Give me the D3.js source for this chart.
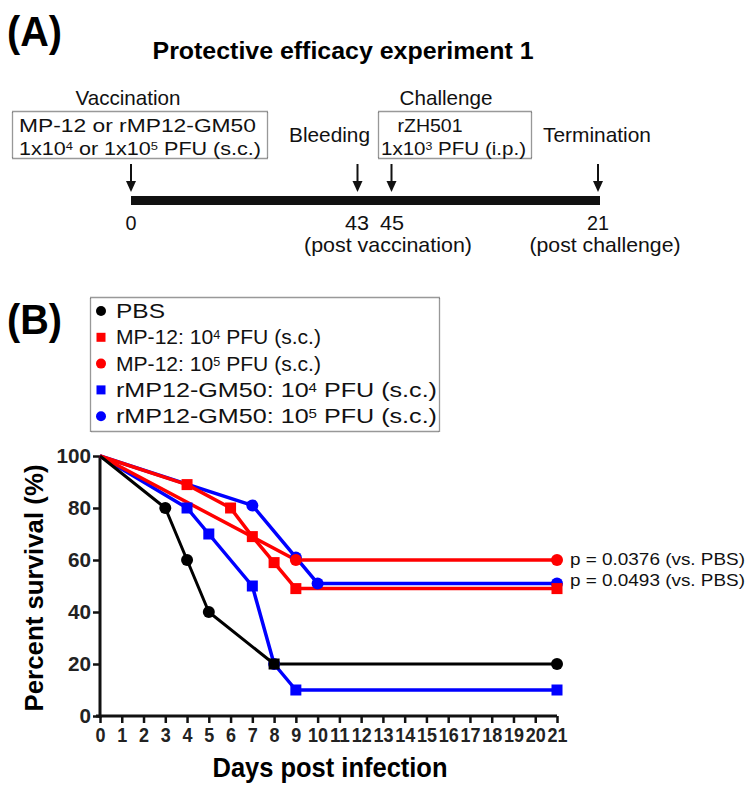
<!DOCTYPE html>
<html><head><meta charset="utf-8">
<script src="https://cdn.jsdelivr.net/npm/d3@7"></script>
<style>
html,body{margin:0;padding:0;background:#fff;}
svg{display:block;}
</style></head>
<body>
<script>
// ---------- DATA ----------
const dayTicks = d3.range(0, 22);
const yTicks = [0, 20, 40, 60, 80, 100];

const pbsDays = [0, 3, 4, 5, 8, 21];
const pbsSurv = [100, 80, 60, 40, 20, 20];

const mp12Lo_Days = [0, 4, 6, 7, 8, 9, 21];
const mp12Lo_Surv = [100, 89, 80, 69, 59, 49, 49];

const mp12Hi_Days = [0, 9, 21];
const mp12Hi_Surv = [100, 60, 60];

const gm50Lo_Days = [0, 4, 5, 7, 8, 9, 21];
const gm50Lo_Surv = [100, 80, 70, 50, 20, 10, 10];

const gm50Hi_Days = [0, 7, 9, 10, 21];
const gm50Hi_Surv = [100, 81, 61, 51, 51];

const seriesNames = ["PBS", "MP-12: 10|4| PFU (s.c.)", "MP-12: 10|5| PFU (s.c.)",
  "rMP12-GM50: 10|4| PFU (s.c.)", "rMP12-GM50: 10|5| PFU (s.c.)"];
const pLabels = ["p = 0.0376 (vs. PBS)", "p = 0.0493 (vs. PBS)"];

// ---------- SETUP ----------
const W = 755, H = 790;
const svg = d3.select("body").append("svg").attr("width", W).attr("height", H)
  .style("font-family", "'Liberation Sans', Arial, Helvetica, sans-serif");

function supText(sel, str) {
  const parts = str.split("|");
  parts.forEach((p, i) => {
    if (!p) return;
    if (i % 2 === 1) {
      sel.append("tspan").attr("dy", "-0.4em").attr("font-size", "0.6em").text(p);
    } else {
      const t = sel.append("tspan").text(p);
      if (i > 0) t.attr("dy", "0.24em");
    }
  });
}

// ---------- PANEL A ----------
svg.append("text").attr("x", 7).attr("y", 46).attr("font-size", 42).attr("font-weight", "bold")
  .attr("textLength", 55).attr("lengthAdjust", "spacingAndGlyphs").text("(A)");
svg.append("text").attr("x", 343).attr("y", 59).attr("text-anchor", "middle")
  .attr("font-size", 24).attr("font-weight", "bold")
  .attr("textLength", 381).attr("lengthAdjust", "spacingAndGlyphs")
  .text("Protective efficacy experiment 1");

function plainText(x, y, str, len, anchor, fs) {
  const t = svg.append("text").attr("x", x).attr("y", y).attr("font-size", fs || 21)
    .attr("fill", "#111").attr("text-anchor", anchor || "start");
  supText(t, str);
  if (len) t.attr("textLength", len).attr("lengthAdjust", "spacingAndGlyphs");
  return t;
}
const boxStyle = r => r.attr("fill", "none").attr("stroke", "#333").attr("stroke-width", 1.3)
  .attr("stroke-dasharray", "1,1");

plainText(128, 105, "Vaccination", 105, "middle");
boxStyle(svg.append("rect").attr("x", 12.5).attr("y", 111.5).attr("width", 255).attr("height", 47));
plainText(19, 132, "MP-12 or rMP12-GM50", 237, "start", 19);
plainText(19, 155, "1x10|4| or 1x10|5| PFU (s.c.)", 242, "start", 19);
plainText(289, 142, "Bleeding", 81);
plainText(446, 105, "Challenge", 93, "middle");
boxStyle(svg.append("rect").attr("x", 378.5).attr("y", 111.5).attr("width", 153).attr("height", 47));
plainText(430, 132, "rZH501", 65, "middle", 19);
plainText(381, 155, "1x10|3| PFU (i.p.)", 145, "start", 19);
plainText(543, 142, "Termination", 108);

// timeline bar
svg.append("rect").attr("x", 131).attr("y", 196).attr("width", 469).attr("height", 9).attr("fill", "#111");
[131, 357.5, 391.5, 598].forEach(ax => {
  svg.append("line").attr("x1", ax).attr("x2", ax).attr("y1", 164).attr("y2", 184)
    .attr("stroke", "#111").attr("stroke-width", 2);
  svg.append("path").attr("d", `M${ax - 5},181 L${ax + 5},181 L${ax},192 Z`).attr("fill", "#111");
});
plainText(131, 230, "0", 11, "middle");
plainText(357, 230, "43", 24, "middle");
plainText(392, 230, "45", 24, "middle");
plainText(598, 230, "21", 22, "middle");
plainText(388, 252, "(post vaccination)", 168, "middle");
plainText(605, 252, "(post challenge)", 151, "middle");

// ---------- PANEL B ----------
svg.append("text").attr("x", 7).attr("y", 334).attr("font-size", 42).attr("font-weight", "bold")
  .attr("textLength", 55).attr("lengthAdjust", "spacingAndGlyphs").text("(B)");

const x = d3.scaleLinear().domain([0, 21]).range([100, 557]);
const y = d3.scaleLinear().domain([0, 100]).range([716, 456]);

const series = [
  { days: gm50Lo_Days, surv: gm50Lo_Surv, color: "#0000ff", shape: "square", lw: 3.5 },
  { days: gm50Hi_Days, surv: gm50Hi_Surv, color: "#0000ff", shape: "circle", lw: 3.5 },
  { days: mp12Hi_Days, surv: mp12Hi_Surv, color: "#ff0000", shape: "circle", lw: 3.5 },
  { days: mp12Lo_Days, surv: mp12Lo_Surv, color: "#ff0000", shape: "square", lw: 3.5 },
  { days: pbsDays, surv: pbsSurv, color: "#000000", shape: "circle", lw: 3 }
];

// axes
const gy = svg.append("g").attr("transform", `translate(${x(0)},0)`)
  .call(d3.axisLeft(y).tickValues(yTicks).tickSize(7).tickSizeOuter(0).tickPadding(2));
const gx = svg.append("g").attr("transform", `translate(0,${y(0)})`)
  .call(d3.axisBottom(x).tickValues(dayTicks).tickSize(7).tickSizeOuter(0).tickPadding(5));
[gx, gy].forEach(g => {
  g.select(".domain").attr("stroke", "#111").attr("stroke-width", 3);
  g.selectAll(".tick line").attr("stroke", "#111").attr("stroke-width", 2.5);
  g.selectAll(".tick text").attr("font-size", 20).attr("font-weight", "bold")
    .attr("fill", "#222").attr("lengthAdjust", "spacingAndGlyphs");
});
gx.selectAll(".tick text").attr("textLength", d => String(d).length * 10);
gy.selectAll(".tick text").attr("textLength", d => String(d).length * 11.5);
gx.select(".domain").attr("d", `M${x(0) - 4},0H${x(21)}`);
gy.select(".domain").attr("d", `M0,${y(100)}V${y(0) + 2}`);

svg.append("text").attr("transform", `translate(43,${(y(0) + y(100)) / 2 + 2}) rotate(-90)`)
  .attr("text-anchor", "middle").attr("font-size", 25).attr("font-weight", "bold")
  .attr("textLength", 247).attr("lengthAdjust", "spacingAndGlyphs")
  .text("Percent survival (%)");
svg.append("text").attr("x", 330).attr("y", 777).attr("text-anchor", "middle")
  .attr("font-size", 28).attr("font-weight", "bold")
  .attr("textLength", 235).attr("lengthAdjust", "spacingAndGlyphs")
  .text("Days post infection");

function marker(g, shape, cx, cy, color, s) {
  if (shape === "circle") {
    g.append("circle").attr("cx", cx).attr("cy", cy).attr("r", s / 2).attr("fill", color);
  } else {
    g.append("rect").attr("x", cx - s / 2).attr("y", cy - s / 2).attr("width", s).attr("height", s).attr("fill", color);
  }
}

const line = d3.line().x(d => x(d[0])).y(d => y(d[1]));
const plot = svg.append("g");
series.forEach(s => {
  const pts = s.days.map((d, i) => [d, s.surv[i]]);
  plot.append("path").attr("d", line(pts)).attr("fill", "none").attr("stroke", s.color)
    .attr("stroke-width", s.lw).attr("stroke-linejoin", "round");
});
series.forEach((s, si) => {
  s.days.forEach((d, i) => {
    if (d === 0) return;
    let shape = s.shape;
    series.forEach((o, oi) => {
      if (oi === si) return;
      o.days.forEach((od, oj) => { if (od === d && o.surv[oj] === s.surv[i]) shape = o.shape; });
    });
    marker(plot, shape, x(d), y(s.surv[i]), s.color, shape === "circle" ? 12 : 11);
  });
});

// p-values
pLabels.forEach((p, i) => {
  svg.append("text").attr("x", 570).attr("y", [565, 586][i]).attr("font-size", 17)
    .attr("fill", "#111").attr("textLength", 175).attr("lengthAdjust", "spacingAndGlyphs").text(p);
});

// legend
boxStyle(svg.append("rect").attr("x", 90.5).attr("y", 297.5).attr("width", 349).attr("height", 134));
const legColors = ["#000000", "#ff0000", "#ff0000", "#0000ff", "#0000ff"];
const legShapes = ["circle", "square", "circle", "square", "circle"];
const legLens = [49, 205, 205, 321, 321];
seriesNames.forEach((n, i) => {
  const by = 318 + i * 26.3;
  marker(svg, legShapes[i], 101, by - 7, legColors[i], legShapes[i] === "circle" ? 10 : 9);
  const t = svg.append("text").attr("x", 116).attr("y", by).attr("font-size", 21).attr("fill", "#111");
  supText(t, n);
  t.attr("textLength", legLens[i]).attr("lengthAdjust", "spacingAndGlyphs");
});
</script>
</body></html>
